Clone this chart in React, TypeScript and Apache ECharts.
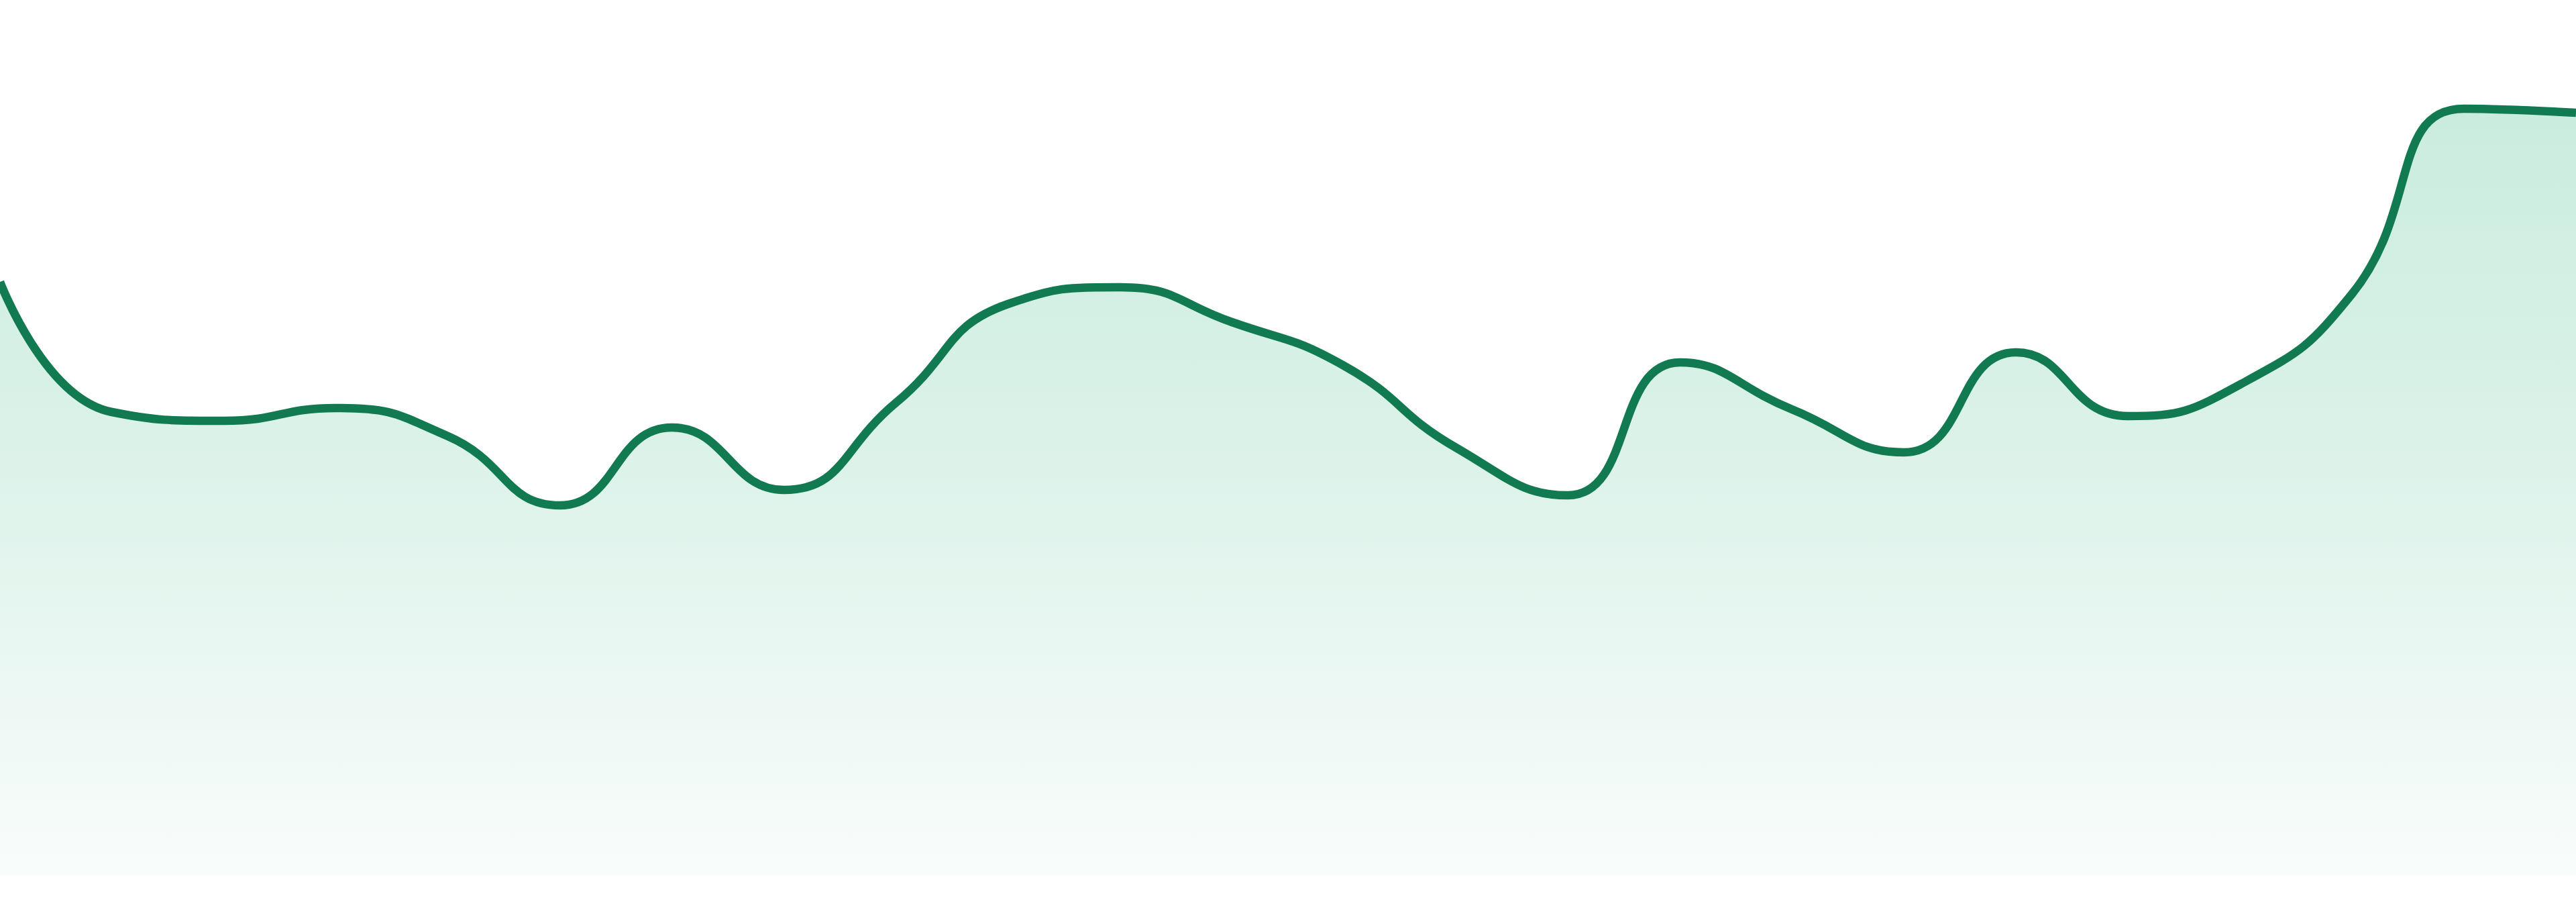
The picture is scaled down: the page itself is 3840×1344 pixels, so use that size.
import React, { useEffect, useRef } from "react";
import * as echarts from "echarts";

const categories = [
  "1", "2", "3", "4", "5", "6", "7", "8", "9", "10", "11", "12",
  "13", "14", "15", "16", "17", "18", "19", "20", "21", "22", "23", "24",
];

const values = [
  88.5, 69.1, 67.8, 69.7, 65.5, 55.2, 66.8, 57.5, 70.5, 85.2, 87.7, 82.5,
  76.0, 63.8, 56.7, 76.5, 69.5, 63.1, 78.0, 68.5, 73.2, 86.7, 114.3, 113.7,
];

const yMin = 0;
const yMax = 130.5;

export default function App() {
  const ref = useRef<HTMLDivElement>(null);

  useEffect(() => {
    document.body.style.margin = "0";
    if (!ref.current) return;
    const chart = echarts.init(ref.current, null, { renderer: "svg" });
    chart.setOption({
      animation: false,
      backgroundColor: "#ffffff",
      grid: { left: 0, right: 0, top: 0, bottom: 39, containLabel: false },
      xAxis: {
        type: "category",
        data: categories,
        boundaryGap: false,
        show: false,
      },
      yAxis: {
        type: "value",
        min: yMin,
        max: yMax,
        show: false,
        splitLine: { show: false },
      },
      series: [
        {
          type: "line",
          data: values,
          smooth: true,
          symbol: "none",
          lineStyle: { color: "#117a51", width: 12.5 },
          areaStyle: {
            color: new echarts.graphic.LinearGradient(0, 0, 0, 1, [
              { offset: 0, color: "#b3e4d1" },
              { offset: 0.5, color: "#d0eee2" },
              { offset: 1, color: "#f6fbf9" },
            ]),
          },
        },
      ],
    });
    return () => chart.dispose();
  }, []);

  return (
    <div
      ref={ref}
      style={{ position: "fixed", left: 0, top: 0, width: 3840, height: 1344 }}
    />
  );
}
